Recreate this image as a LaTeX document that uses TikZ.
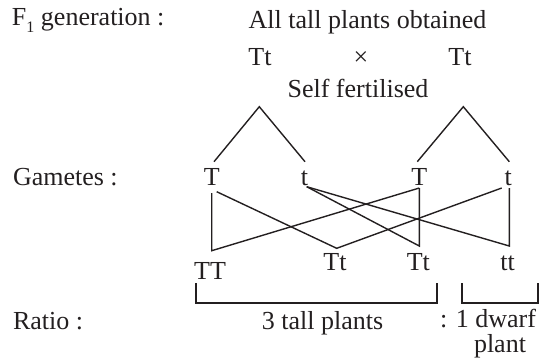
\documentclass[tikz,border=0pt]{standalone}
\usepackage{fontspec}
\setmainfont{Liberation Serif}
\definecolor{ink}{HTML}{231F20}
\tikzset{
  lbl/.style={anchor=base, inner sep=0pt, outer sep=0pt, text=ink, font=\fontsize{26}{31}\selectfont},
  lblw/.style={lbl, anchor=base west},
  link/.style={draw=ink, line width=1.4pt, line join=miter},
  brace/.style={draw=ink, line width=2pt, line join=miter}
}
\begin{document}
\begin{tikzpicture}[x=1pt,y=-1pt]
\useasboundingbox (0,0) rectangle (551,360);
% row labels
\node[lblw] (f1) at (12,25) {F\raisebox{-0.3em}{\fontsize{16}{16}\selectfont 1} generation :};
\node[lblw] (gam) at (13,185) {Gametes :};
\node[lblw] (rat) at (13,329) {Ratio :};
% F1 line
\node[lbl] (all) at (367.5,28) {All tall plants obtained};
\node[lbl] (p1) at (260,65) {Tt};
\node[lbl] (x) at (361,65) {×};
\node[lbl] (p2) at (460,65) {Tt};
\node[lbl] (self) at (358,97) {Self fertilised};
% gametes
\node[lbl] (g1) at (211.7,185) {T};
\node[lbl] (g2) at (304.5,185) {t};
\node[lbl] (g3) at (419.3,185) {T};
\node[lbl] (g4) at (508.3,185) {t};
% offspring
\node[lbl] (o1) at (210,279.3) {TT};
\node[lbl] (o2) at (335,270) {Tt};
\node[lbl] (o3) at (418.3,270) {Tt};
\node[lbl] (o4) at (507.5,270) {tt};
% ratio texts
\node[lbl] (tall) at (322.5,329) {3 tall plants};
\node[lblw] (dwarf) at (440,327.5) {:\,\,1 dwarf};
\node[lbl] (plant) at (500,352) {plant};
% tree coordinates
\coordinate (a1) at (259.3,106.7);
\coordinate (a2) at (463.3,106.7);
\coordinate (l1) at (214,161.7);
\coordinate (r1) at (305,161.7);
\coordinate (l2) at (417.3,161.7);
\coordinate (r2) at (509.3,161.7);
\draw[link] (l1) -- (a1) -- (r1);
\draw[link] (l2) -- (a2) -- (r2);
% cross coordinates
\coordinate (g1a) at (211.7,193);
\coordinate (g1b) at (216.7,191.7);
\coordinate (g2a) at (306.7,186.7);
\coordinate (g3a) at (419.3,188);
\coordinate (g4a) at (501.7,188);
\coordinate (g4b) at (509.3,188);
\coordinate (o1a) at (211.7,250.7);
\coordinate (o2a) at (336.7,248.3);
\coordinate (o3a) at (419.3,246);
\coordinate (o4a) at (509.3,246);
\draw[link] (g1a) -- (o1a) -- (g3a);
\draw[link] (g1b) -- (o2a) -- (g4a);
\draw[link] (g3a) -- (o3a) -- (g2a);
\draw[link] (g4b) -- (o4a) -- (g2a);
% brackets
\coordinate (b1a) at (196,283);
\coordinate (b1b) at (436.5,283);
\coordinate (b2a) at (462,283);
\coordinate (b2b) at (537.5,283);
\draw[brace] (b1a) -- ++(0,19.5) -| (b1b);
\draw[brace] (b2a) -- ++(0,19.5) -| (b2b);
\end{tikzpicture}
\end{document}
